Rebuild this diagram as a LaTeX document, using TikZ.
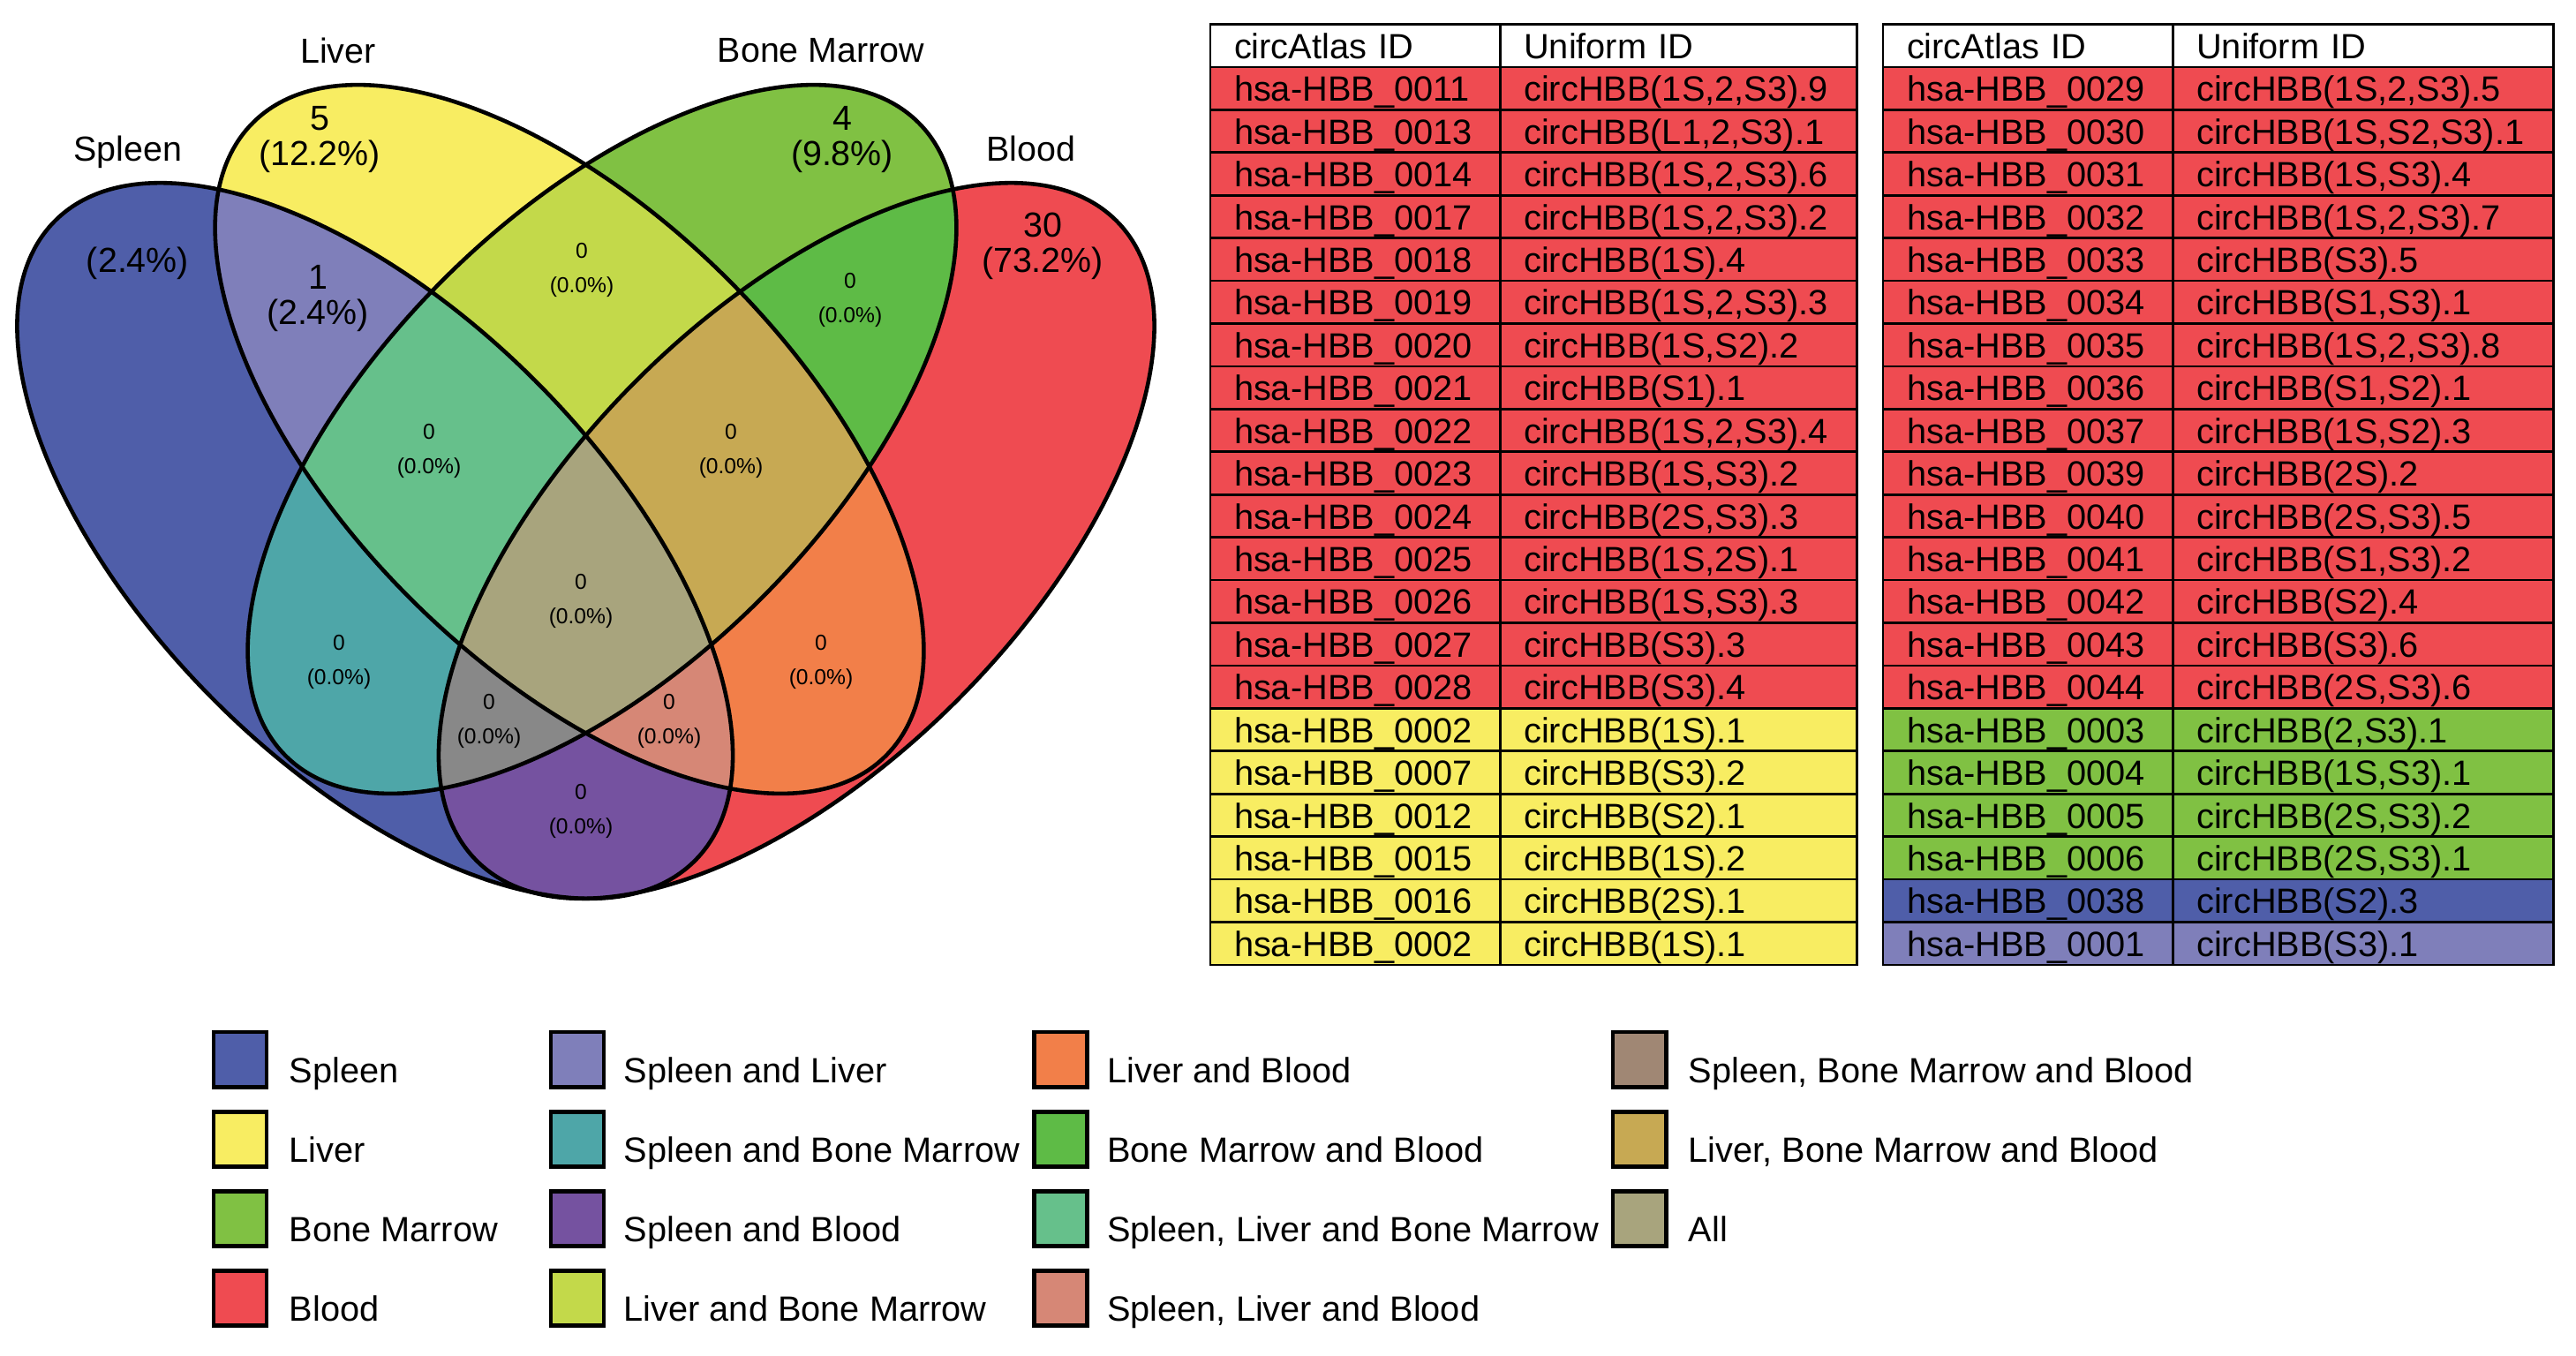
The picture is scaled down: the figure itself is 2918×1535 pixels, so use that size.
\documentclass[tikz,border=0pt]{standalone}
\usepackage{fontspec}
\setmainfont{Liberation Sans}
\usepackage{xcolor}
\usepackage{tikz}
\definecolor{spleenblue}{HTML}{4F5EA9}
\definecolor{liveryellow}{HTML}{F8ED62}
\definecolor{marrowgreen}{HTML}{80C143}
\definecolor{bloodred}{HTML}{EF4B51}
\definecolor{spleenliver}{HTML}{7F7FBA}
\definecolor{spleenmarrow}{HTML}{4EA6A8}
\definecolor{spleenblood}{HTML}{7552A0}
\definecolor{livermarrow}{HTML}{C3D94A}
\definecolor{liverblood}{HTML}{F27F49}
\definecolor{marrowblood}{HTML}{5EBB46}
\definecolor{slmcol}{HTML}{66C08B}
\definecolor{slbcol}{HTML}{D68776}
\definecolor{smbcol}{HTML}{888888}
\definecolor{smbkey}{HTML}{A08774}
\definecolor{lmbcol}{HTML}{C7A953}
\definecolor{allfour}{HTML}{A8A47D}
\usetikzlibrary{positioning}

\newcommand{\tabfont}{\fontsize{11.3}{13}\selectfont}
\newcommand{\keyfont}{\fontsize{11.3}{13}\selectfont}
\newcommand{\bigfont}{\fontsize{11.2}{11.4}\selectfont}
\newcommand{\smallfont}{\fontsize{7}{11.1}\selectfont}

\tikzset{
    spleenpath/.style={insert path={(424.75,612.5) ellipse [x radius=512.5, y radius=256.5, rotate=-45]}},
    liverpath/.style={insert path={(645,497.5) ellipse [x radius=507, y radius=255, rotate=-45]}},
    marrowpath/.style={insert path={(682,497.5) ellipse [x radius=507, y radius=255, rotate=45]}},
    bloodpath/.style={insert path={(902.25,612.5) ellipse [x radius=512.5, y radius=256.5, rotate=45]}},
    vennline/.style={draw=black, line width=1.3pt},
    setname/.style={font=\bigfont, inner sep=0pt},
    bigcount/.style={font=\bigfont, align=center, inner sep=0pt},
    smallcount/.style={font=\smallfont, align=center, inner sep=0pt},
    idcell/.style={draw, line width=0.8pt, outer sep=0pt, inner xsep=0pt, inner ysep=0pt, text width=3.28cm, minimum height=0.484cm, text height=0.388cm, text depth=0.095cm, align=left, font=\tabfont, execute at begin node={\hspace*{0.27cm}}},
    uidcell/.style={idcell, text width=4.04cm},
    uidwide/.style={idcell, text width=4.31cm},
    keybox/.style={draw, line width=1.4pt, minimum width=0.6cm, minimum height=0.62cm, inner sep=0pt, outer sep=0pt},
    keytext/.style={font=\keyfont, inner sep=0pt, anchor=base west}
}

\begin{document}
\begin{tikzpicture}[x=0.01cm, y=-0.01cm]
    \fill[white] (0,0) rectangle (2918,1535);
    \useasboundingbox (0,0) rectangle (2918,1535);

    \fill[spleenblue, spleenpath];
    \fill[liveryellow, liverpath];
    \fill[marrowgreen, marrowpath];
    \fill[bloodred, bloodpath];

    \begin{scope}
        \clip[spleenpath];
        \fill[spleenliver, liverpath];
        \fill[spleenmarrow, marrowpath];
        \fill[spleenblood, bloodpath];
    \end{scope}
    \begin{scope}
        \clip[liverpath];
        \fill[livermarrow, marrowpath];
        \fill[liverblood, bloodpath];
    \end{scope}
    \begin{scope}
        \clip[marrowpath];
        \fill[marrowblood, bloodpath];
    \end{scope}

    \begin{scope}
        \clip[spleenpath];
        \clip[liverpath];
        \fill[slmcol, marrowpath];
        \fill[slbcol, bloodpath];
    \end{scope}
    \begin{scope}
        \clip[spleenpath];
        \clip[marrowpath];
        \fill[smbcol, bloodpath];
    \end{scope}
    \begin{scope}
        \clip[liverpath];
        \clip[marrowpath];
        \fill[lmbcol, bloodpath];
    \end{scope}
    \begin{scope}
        \clip[spleenpath];
        \clip[liverpath];
        \clip[marrowpath];
        \fill[allfour, bloodpath];
    \end{scope}

    \draw[vennline, spleenpath];
    \draw[vennline, liverpath];
    \draw[vennline, marrowpath];
    \draw[vennline, bloodpath];

    \node[setname] (spleen) at (145,172) {Spleen};
    \node[setname] (liver) at (383,57) {Liver};
    \node[setname] (marrow) at (930,57) {Bone Marrow};
    \node[setname] (blood) at (1168,168) {Blood};

    \node[bigcount] (nS) at (156,298) {(2.4\%)};
    \node[bigcount] (nL) at (362,158) {5\\(12.2\%)};
    \node[bigcount] (nM) at (954,158) {4\\(9.8\%)};
    \node[bigcount] (nB) at (1181,279) {30\\(73.2\%)};
    \node[bigcount] (nSL) at (360,338) {1\\(2.4\%)};
    \node[smallcount] (nLM) at (659,306) {0\\(0.0\%)};
    \node[smallcount] (nMB) at (963,340) {0\\(0.0\%)};
    \node[smallcount] (nSLM) at (486,511) {0\\(0.0\%)};
    \node[smallcount] (nLMB) at (828,511) {0\\(0.0\%)};
    \node[smallcount] (nAll) at (658,681) {0\\(0.0\%)};
    \node[smallcount] (nSM) at (384,750) {0\\(0.0\%)};
    \node[smallcount] (nLB) at (930,750) {0\\(0.0\%)};
    \node[smallcount] (nSMB) at (554,817) {0\\(0.0\%)};
    \node[smallcount] (nSLB) at (758,817) {0\\(0.0\%)};
    \node[smallcount] (nSB) at (658,919) {0\\(0.0\%)};

    \node[idcell, fill=white, anchor=north west] (ta0) at (1371,27.5) {circAtlas ID};
    \node[uidcell, fill=white, right=0pt of ta0] (tb0) {Uniform ID};
    \node[idcell, fill=bloodred, below=0pt of ta0] (ta1) {hsa-HBB\_0011};
    \node[uidcell, fill=bloodred, right=0pt of ta1] (tb1) {circHBB(1S,2,S3).9};
    \node[idcell, fill=bloodred, below=0pt of ta1] (ta2) {hsa-HBB\_0013};
    \node[uidcell, fill=bloodred, right=0pt of ta2] (tb2) {circHBB(L1,2,S3).1};
    \node[idcell, fill=bloodred, below=0pt of ta2] (ta3) {hsa-HBB\_0014};
    \node[uidcell, fill=bloodred, right=0pt of ta3] (tb3) {circHBB(1S,2,S3).6};
    \node[idcell, fill=bloodred, below=0pt of ta3] (ta4) {hsa-HBB\_0017};
    \node[uidcell, fill=bloodred, right=0pt of ta4] (tb4) {circHBB(1S,2,S3).2};
    \node[idcell, fill=bloodred, below=0pt of ta4] (ta5) {hsa-HBB\_0018};
    \node[uidcell, fill=bloodred, right=0pt of ta5] (tb5) {circHBB(1S).4};
    \node[idcell, fill=bloodred, below=0pt of ta5] (ta6) {hsa-HBB\_0019};
    \node[uidcell, fill=bloodred, right=0pt of ta6] (tb6) {circHBB(1S,2,S3).3};
    \node[idcell, fill=bloodred, below=0pt of ta6] (ta7) {hsa-HBB\_0020};
    \node[uidcell, fill=bloodred, right=0pt of ta7] (tb7) {circHBB(1S,S2).2};
    \node[idcell, fill=bloodred, below=0pt of ta7] (ta8) {hsa-HBB\_0021};
    \node[uidcell, fill=bloodred, right=0pt of ta8] (tb8) {circHBB(S1).1};
    \node[idcell, fill=bloodred, below=0pt of ta8] (ta9) {hsa-HBB\_0022};
    \node[uidcell, fill=bloodred, right=0pt of ta9] (tb9) {circHBB(1S,2,S3).4};
    \node[idcell, fill=bloodred, below=0pt of ta9] (ta10) {hsa-HBB\_0023};
    \node[uidcell, fill=bloodred, right=0pt of ta10] (tb10) {circHBB(1S,S3).2};
    \node[idcell, fill=bloodred, below=0pt of ta10] (ta11) {hsa-HBB\_0024};
    \node[uidcell, fill=bloodred, right=0pt of ta11] (tb11) {circHBB(2S,S3).3};
    \node[idcell, fill=bloodred, below=0pt of ta11] (ta12) {hsa-HBB\_0025};
    \node[uidcell, fill=bloodred, right=0pt of ta12] (tb12) {circHBB(1S,2S).1};
    \node[idcell, fill=bloodred, below=0pt of ta12] (ta13) {hsa-HBB\_0026};
    \node[uidcell, fill=bloodred, right=0pt of ta13] (tb13) {circHBB(1S,S3).3};
    \node[idcell, fill=bloodred, below=0pt of ta13] (ta14) {hsa-HBB\_0027};
    \node[uidcell, fill=bloodred, right=0pt of ta14] (tb14) {circHBB(S3).3};
    \node[idcell, fill=bloodred, below=0pt of ta14] (ta15) {hsa-HBB\_0028};
    \node[uidcell, fill=bloodred, right=0pt of ta15] (tb15) {circHBB(S3).4};
    \node[idcell, fill=liveryellow, below=0pt of ta15] (ta16) {hsa-HBB\_0002};
    \node[uidcell, fill=liveryellow, right=0pt of ta16] (tb16) {circHBB(1S).1};
    \node[idcell, fill=liveryellow, below=0pt of ta16] (ta17) {hsa-HBB\_0007};
    \node[uidcell, fill=liveryellow, right=0pt of ta17] (tb17) {circHBB(S3).2};
    \node[idcell, fill=liveryellow, below=0pt of ta17] (ta18) {hsa-HBB\_0012};
    \node[uidcell, fill=liveryellow, right=0pt of ta18] (tb18) {circHBB(S2).1};
    \node[idcell, fill=liveryellow, below=0pt of ta18] (ta19) {hsa-HBB\_0015};
    \node[uidcell, fill=liveryellow, right=0pt of ta19] (tb19) {circHBB(1S).2};
    \node[idcell, fill=liveryellow, below=0pt of ta19] (ta20) {hsa-HBB\_0016};
    \node[uidcell, fill=liveryellow, right=0pt of ta20] (tb20) {circHBB(2S).1};
    \node[idcell, fill=liveryellow, below=0pt of ta20] (ta21) {hsa-HBB\_0002};
    \node[uidcell, fill=liveryellow, right=0pt of ta21] (tb21) {circHBB(1S).1};

    \node[idcell, fill=white, anchor=north west] (tc0) at (2133,27.5) {circAtlas ID};
    \node[uidwide, fill=white, right=0pt of tc0] (td0) {Uniform ID};
    \node[idcell, fill=bloodred, below=0pt of tc0] (tc1) {hsa-HBB\_0029};
    \node[uidwide, fill=bloodred, right=0pt of tc1] (td1) {circHBB(1S,2,S3).5};
    \node[idcell, fill=bloodred, below=0pt of tc1] (tc2) {hsa-HBB\_0030};
    \node[uidwide, fill=bloodred, right=0pt of tc2] (td2) {circHBB(1S,S2,S3).1};
    \node[idcell, fill=bloodred, below=0pt of tc2] (tc3) {hsa-HBB\_0031};
    \node[uidwide, fill=bloodred, right=0pt of tc3] (td3) {circHBB(1S,S3).4};
    \node[idcell, fill=bloodred, below=0pt of tc3] (tc4) {hsa-HBB\_0032};
    \node[uidwide, fill=bloodred, right=0pt of tc4] (td4) {circHBB(1S,2,S3).7};
    \node[idcell, fill=bloodred, below=0pt of tc4] (tc5) {hsa-HBB\_0033};
    \node[uidwide, fill=bloodred, right=0pt of tc5] (td5) {circHBB(S3).5};
    \node[idcell, fill=bloodred, below=0pt of tc5] (tc6) {hsa-HBB\_0034};
    \node[uidwide, fill=bloodred, right=0pt of tc6] (td6) {circHBB(S1,S3).1};
    \node[idcell, fill=bloodred, below=0pt of tc6] (tc7) {hsa-HBB\_0035};
    \node[uidwide, fill=bloodred, right=0pt of tc7] (td7) {circHBB(1S,2,S3).8};
    \node[idcell, fill=bloodred, below=0pt of tc7] (tc8) {hsa-HBB\_0036};
    \node[uidwide, fill=bloodred, right=0pt of tc8] (td8) {circHBB(S1,S2).1};
    \node[idcell, fill=bloodred, below=0pt of tc8] (tc9) {hsa-HBB\_0037};
    \node[uidwide, fill=bloodred, right=0pt of tc9] (td9) {circHBB(1S,S2).3};
    \node[idcell, fill=bloodred, below=0pt of tc9] (tc10) {hsa-HBB\_0039};
    \node[uidwide, fill=bloodred, right=0pt of tc10] (td10) {circHBB(2S).2};
    \node[idcell, fill=bloodred, below=0pt of tc10] (tc11) {hsa-HBB\_0040};
    \node[uidwide, fill=bloodred, right=0pt of tc11] (td11) {circHBB(2S,S3).5};
    \node[idcell, fill=bloodred, below=0pt of tc11] (tc12) {hsa-HBB\_0041};
    \node[uidwide, fill=bloodred, right=0pt of tc12] (td12) {circHBB(S1,S3).2};
    \node[idcell, fill=bloodred, below=0pt of tc12] (tc13) {hsa-HBB\_0042};
    \node[uidwide, fill=bloodred, right=0pt of tc13] (td13) {circHBB(S2).4};
    \node[idcell, fill=bloodred, below=0pt of tc13] (tc14) {hsa-HBB\_0043};
    \node[uidwide, fill=bloodred, right=0pt of tc14] (td14) {circHBB(S3).6};
    \node[idcell, fill=bloodred, below=0pt of tc14] (tc15) {hsa-HBB\_0044};
    \node[uidwide, fill=bloodred, right=0pt of tc15] (td15) {circHBB(2S,S3).6};
    \node[idcell, fill=marrowgreen, below=0pt of tc15] (tc16) {hsa-HBB\_0003};
    \node[uidwide, fill=marrowgreen, right=0pt of tc16] (td16) {circHBB(2,S3).1};
    \node[idcell, fill=marrowgreen, below=0pt of tc16] (tc17) {hsa-HBB\_0004};
    \node[uidwide, fill=marrowgreen, right=0pt of tc17] (td17) {circHBB(1S,S3).1};
    \node[idcell, fill=marrowgreen, below=0pt of tc17] (tc18) {hsa-HBB\_0005};
    \node[uidwide, fill=marrowgreen, right=0pt of tc18] (td18) {circHBB(2S,S3).2};
    \node[idcell, fill=marrowgreen, below=0pt of tc18] (tc19) {hsa-HBB\_0006};
    \node[uidwide, fill=marrowgreen, right=0pt of tc19] (td19) {circHBB(2S,S3).1};
    \node[idcell, fill=spleenblue, below=0pt of tc19] (tc20) {hsa-HBB\_0038};
    \node[uidwide, fill=spleenblue, right=0pt of tc20] (td20) {circHBB(S2).3};
    \node[idcell, fill=spleenliver, below=0pt of tc20] (tc21) {hsa-HBB\_0001};
    \node[uidwide, fill=spleenliver, right=0pt of tc21] (td21) {circHBB(S3).1};

    \node[keybox, fill=spleenblue] (k1) at (272,1200) {};
    \node[keybox, fill=liveryellow, below=0.28cm of k1] (k2) {};
    \node[keybox, fill=marrowgreen, below=0.28cm of k2] (k3) {};
    \node[keybox, fill=bloodred, below=0.28cm of k3] (k4) {};
    \node[keybox, fill=spleenliver] (k5) at (654,1200) {};
    \node[keybox, fill=spleenmarrow, below=0.28cm of k5] (k6) {};
    \node[keybox, fill=spleenblood, below=0.28cm of k6] (k7) {};
    \node[keybox, fill=livermarrow, below=0.28cm of k7] (k8) {};
    \node[keybox, fill=liverblood] (k9) at (1201.5,1200) {};
    \node[keybox, fill=marrowblood, below=0.28cm of k9] (k10) {};
    \node[keybox, fill=slmcol, below=0.28cm of k10] (k11) {};
    \node[keybox, fill=slbcol, below=0.28cm of k11] (k12) {};
    \node[keybox, fill=smbkey] (k13) at (1857,1200) {};
    \node[keybox, fill=lmbcol, below=0.28cm of k13] (k14) {};
    \node[keybox, fill=allfour, below=0.28cm of k14] (k15) {};

    \node[keytext] (k1t) at ([xshift=0.25cm, yshift=0.05cm]k1.south east) {Spleen};
    \node[keytext] (k2t) at ([xshift=0.25cm, yshift=0.05cm]k2.south east) {Liver};
    \node[keytext] (k3t) at ([xshift=0.25cm, yshift=0.05cm]k3.south east) {Bone Marrow};
    \node[keytext] (k4t) at ([xshift=0.25cm, yshift=0.05cm]k4.south east) {Blood};
    \node[keytext] (k5t) at ([xshift=0.22cm, yshift=0.05cm]k5.south east) {Spleen and Liver};
    \node[keytext] (k6t) at ([xshift=0.22cm, yshift=0.05cm]k6.south east) {Spleen and Bone Marrow};
    \node[keytext] (k7t) at ([xshift=0.22cm, yshift=0.05cm]k7.south east) {Spleen and Blood};
    \node[keytext] (k8t) at ([xshift=0.22cm, yshift=0.05cm]k8.south east) {Liver and Bone Marrow};
    \node[keytext] (k9t) at ([xshift=0.22cm, yshift=0.05cm]k9.south east) {Liver and Blood};
    \node[keytext] (k10t) at ([xshift=0.22cm, yshift=0.05cm]k10.south east) {Bone Marrow and Blood};
    \node[keytext] (k11t) at ([xshift=0.22cm, yshift=0.05cm]k11.south east) {Spleen, Liver and Bone Marrow};
    \node[keytext] (k12t) at ([xshift=0.22cm, yshift=0.05cm]k12.south east) {Spleen, Liver and Blood};
    \node[keytext] (k13t) at ([xshift=0.25cm, yshift=0.05cm]k13.south east) {Spleen, Bone Marrow and Blood};
    \node[keytext] (k14t) at ([xshift=0.25cm, yshift=0.05cm]k14.south east) {Liver, Bone Marrow and Blood};
    \node[keytext] (k15t) at ([xshift=0.25cm, yshift=0.05cm]k15.south east) {All};
\end{tikzpicture}
\end{document}
